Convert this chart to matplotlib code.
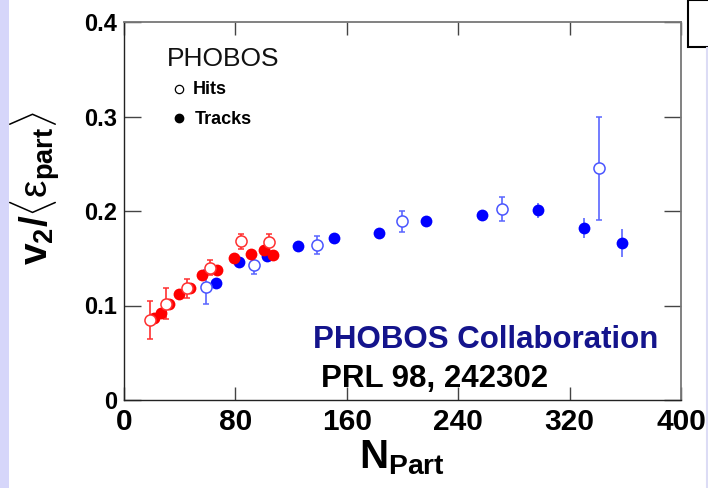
import matplotlib
matplotlib.use('Agg')
import matplotlib.pyplot as plt
from matplotlib.patches import Rectangle
from matplotlib.lines import Line2D

plt.rcParams['font.family'] = ['Liberation Sans', 'DejaVu Sans']
plt.rcParams['mathtext.fontset'] = 'custom'
plt.rcParams['mathtext.rm'] = 'Liberation Sans'
plt.rcParams['mathtext.bf'] = 'Liberation Sans:bold'
plt.rcParams['mathtext.it'] = 'Liberation Sans:italic'

# Cu+Cu (red) and Au+Au (blue), hits = open, tracks = filled
red_hits_x = [18.7, 30.2, 45.0, 61.8, 83.8, 104.4]
red_hits_y = [0.085, 0.102, 0.118, 0.140, 0.168, 0.167]
red_hits_err = [0.020, 0.016, 0.010, 0.008, 0.008, 0.009]

red_tracks_x = [21.5, 26.3, 32.6, 39.7, 47.4, 55.8, 67.0, 79.0, 91.0, 100.5, 107.2]
red_tracks_y = [0.087, 0.092, 0.102, 0.112, 0.118, 0.132, 0.138, 0.150, 0.155, 0.159, 0.153]

blue_hits_x = [58.9, 93.4, 138.8, 199.4, 271.7, 341.1]
blue_hits_y = [0.120, 0.143, 0.164, 0.189, 0.202, 0.245]
blue_hits_err = [0.018, 0.010, 0.010, 0.011, 0.013, 0.055]

blue_tracks_x = [66.1, 82.8, 102.5, 124.7, 150.6, 182.9, 217.1, 257.3, 297.5, 330.3, 357.8]
blue_tracks_y = [0.1235, 0.146, 0.152, 0.1626, 0.1714, 0.177, 0.189, 0.196, 0.2007, 0.182, 0.166]
blue_tracks_err = [0.002, 0.002, 0.002, 0.002, 0.002, 0.002, 0.002, 0.002, 0.008, 0.011, 0.015]

xticks = [0, 80, 160, 240, 320, 400]
yticks = [0, 0.1, 0.2, 0.3, 0.4]
yticklabels = ['0', '0.1', '0.2', '0.3', '0.4']

W, H = 708, 488
fig = plt.figure(figsize=(W / 100, H / 100), dpi=100)
ax = fig.add_axes([124 / W, 1 - 400 / H, 557 / W, 378 / H])

ms = 8.5
# blue first
ax.errorbar(blue_tracks_x, blue_tracks_y, yerr=blue_tracks_err, fmt='o', ms=ms,
            color='#0000ff', ecolor='#5a66ff', elinewidth=1.2, capsize=2.5, mew=0)
ax.errorbar(blue_hits_x, blue_hits_y, yerr=blue_hits_err, fmt='o', ms=ms - 0.5,
            mfc='white', mec='#4a55ff', mew=1.1, ecolor='#5a66ff', elinewidth=1.2, capsize=2.5)
ax.errorbar(red_tracks_x, red_tracks_y, fmt='o', ms=ms, color='#ff0000', mew=0)
ax.errorbar(red_hits_x, red_hits_y, yerr=red_hits_err, fmt='o', ms=ms - 0.5,
            mfc='white', mec='#ff3030', mew=1.1, ecolor='#ff3030', elinewidth=1.2, capsize=2.5)

ax.set_xlim(0, 400)
ax.set_ylim(0, 0.4)
ax.set_xticks(xticks)
ax.set_yticks(yticks)
ax.set_yticklabels(yticklabels)
ax.tick_params(axis='x', direction='in', length=9.5, width=1, top=True, pad=5.5,
               labelsize=21.5, color='#444444')
ax.tick_params(axis='y', direction='in', length=12.5, width=1, right=True, pad=5,
               labelsize=17, color='#444444')
for lab in ax.get_xticklabels() + ax.get_yticklabels():
    lab.set_fontweight('bold')
for s in ['left', 'bottom']:
    ax.spines[s].set_color('#222222')
    ax.spines[s].set_linewidth(1.0)
for s in ['top', 'right']:
    ax.spines[s].set_color('#777777')
    ax.spines[s].set_linewidth(1.3)


def fx(px):
    return px / W


def fy(py):
    return 1 - py / H


# legend-like annotation
fig.text(fx(167), fy(59), 'PHOBOS', fontsize=19, va='center', ha='left', color='#111111')
fig.add_artist(Line2D([fx(179)], [fy(89)], marker='o', ms=6, mfc='white', mec='black',
                      mew=0.9, ls='none', transform=fig.transFigure))
fig.add_artist(Line2D([fx(179)], [fy(118)], marker='o', ms=6, color='black',
                      ls='none', transform=fig.transFigure))
fig.text(fx(193), fy(90), 'Hits', fontsize=13, fontweight='bold', va='center', ha='left')
fig.text(fx(195), fy(119), 'Tracks', fontsize=13, fontweight='bold', va='center', ha='left')

fig.text(fx(313), fy(340), 'PHOBOS Collaboration', fontsize=22.5, fontweight='bold',
         color='#14148c', va='center', ha='left')
fig.text(fx(321), fy(379), 'PRL 98, 242302', fontsize=22.5, fontweight='bold',
         color='black', va='center', ha='left')

# axis labels
fig.text(fx(402), fy(458), r'$\mathbf{N_{Part}}$', fontsize=29, ha='center', va='center')
fig.text(fx(36), fy(188),
         r'$\mathbf{v_2/}\langle\mathrm{ε}_{\mathbf{part}}\rangle$',
         fontsize=28, rotation=90, ha='center', va='center')

# slide decorations around the plot
fig.add_artist(Rectangle((0, 0), fx(9), 1, transform=fig.transFigure,
                         facecolor='#d6d6fa', edgecolor='none'))
fig.add_artist(Rectangle((fx(688), fy(47)), fx(40), 47 / H, transform=fig.transFigure,
                         facecolor='white', edgecolor='black', lw=1.5))
fig.add_artist(Line2D([fx(706.5), fx(706.5)], [0, fy(48)], color='#dcdcf5', lw=1.5,
                      transform=fig.transFigure))

fig.savefig('out.png', dpi=100)
